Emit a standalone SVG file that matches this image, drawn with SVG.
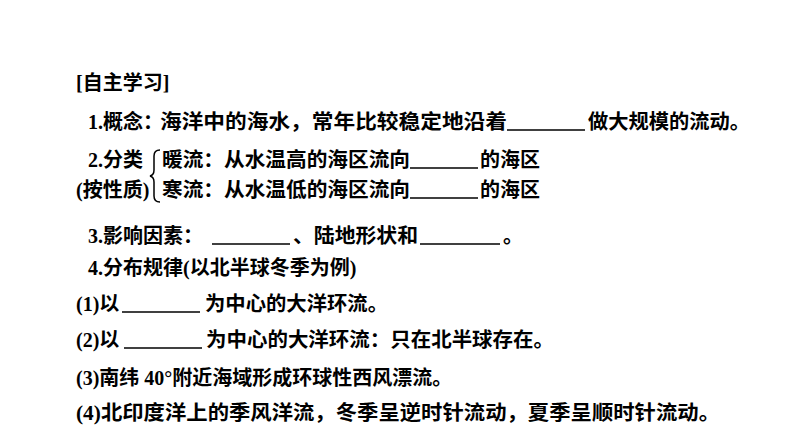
<svg xmlns="http://www.w3.org/2000/svg" width="794" height="446" viewBox="0 0 794 446">
<style>
text{font-family:"Liberation Serif","Noto Sans CJK SC",serif;font-size:20px;font-weight:bold;fill:#000}
.u{stroke:#000;stroke-width:1.5}
</style>
<rect width="794" height="446" fill="#fff"/>
<g id="text">
<text x="76" y="90">[自主学习]</text>
<text x="88" y="129">1.概念：</text>
<text x="160" y="129" textLength="347" lengthAdjust="spacingAndGlyphs">海洋中的海水，常年比较稳定地沿着</text>
<text x="588" y="129" textLength="162" lengthAdjust="spacingAndGlyphs">做大规模的流动。</text>
<text x="88" y="167">2.分类</text>
<text x="162" y="167" textLength="248" lengthAdjust="spacingAndGlyphs">暖流：从水温高的海区流向</text>
<text x="480" y="167" textLength="60" lengthAdjust="spacingAndGlyphs">的海区</text>
<text x="76" y="197">(按性质)</text>
<text x="162" y="197" textLength="248" lengthAdjust="spacingAndGlyphs">寒流：从水温低的海区流向</text>
<text x="480" y="197" textLength="60" lengthAdjust="spacingAndGlyphs">的海区</text>
<text x="88" y="243">3.影响因素：</text>
<text x="293" y="243" textLength="125" lengthAdjust="spacingAndGlyphs">、陆地形状和</text>
<text x="503" y="243">。</text>
<text x="88" y="275">4.分布规律(以北半球冬季为例)</text>
<text x="76" y="311">(1)以</text>
<text x="205" y="311" textLength="183" lengthAdjust="spacingAndGlyphs">为中心的大洋环流。</text>
<text x="76" y="347">(2)以</text>
<text x="206" y="347" textLength="348" lengthAdjust="spacingAndGlyphs">为中心的大洋环流：只在北半球存在。</text>
<text x="76" y="385">(3)南纬 40°附近海域形成环球性西风漂流。</text>
<text x="76" y="420" textLength="644" lengthAdjust="spacingAndGlyphs">(4)北印度洋上的季风洋流，冬季呈逆时针流动，夏季呈顺时针流动。</text>
</g>
<g id="lines">
<line class="u" x1="507" y1="130" x2="585" y2="130"/>
<line class="u" x1="410" y1="168" x2="478" y2="168"/>
<line class="u" x1="410" y1="198" x2="478" y2="198"/>
<line class="u" x1="212" y1="244" x2="290" y2="244"/>
<line class="u" x1="420" y1="244" x2="500" y2="244"/>
<line class="u" x1="122" y1="312" x2="200" y2="312"/>
<line class="u" x1="124" y1="348" x2="202" y2="348"/>
<path d="M160 150 Q154 150 154 156 L154 170 Q154 175 150 176 Q154 177 154 182 L154 196 Q154 202 160 202" fill="none" stroke="#000" stroke-width="1.5"/>
</g>
</svg>
